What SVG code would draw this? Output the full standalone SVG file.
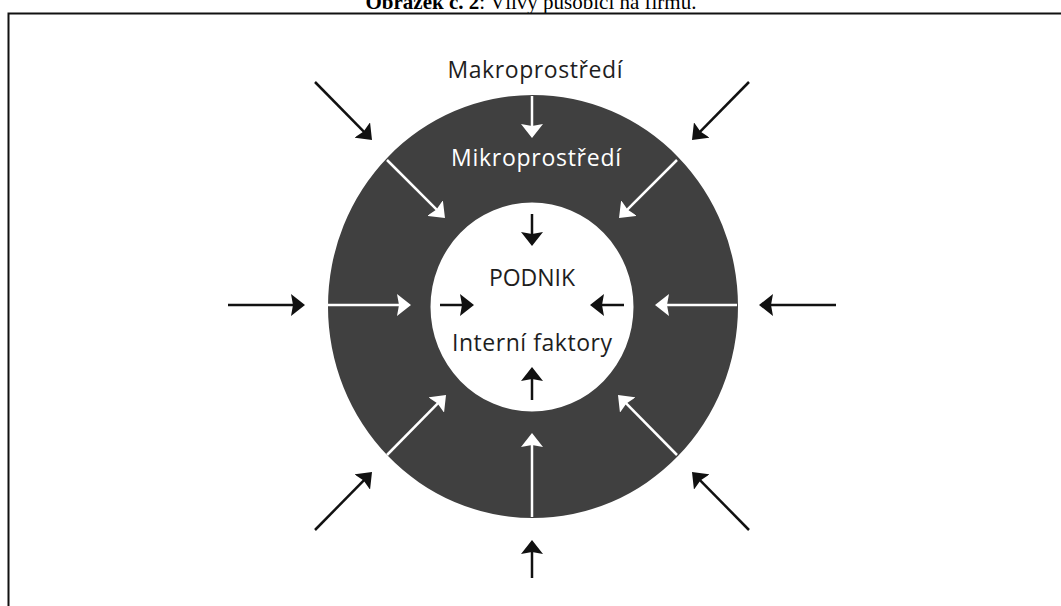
<svg xmlns="http://www.w3.org/2000/svg" width="1061" height="606" viewBox="0 0 1061 606">
  <style>
    .lbl { font-family: "Open Sans", "Noto Sans", "Liberation Sans", sans-serif; font-size: 23px; text-anchor: middle; }
    .dark { fill: #1e1e1e; }
    .light { fill: #ffffff; }
    .ab { stroke: #111111; stroke-width: 2.5; fill: none; marker-end: url(#hb); }
    .aw { stroke: #ffffff; stroke-width: 2.5; fill: none; marker-end: url(#hw); }
    .title { font-family: "Liberation Serif", "Times New Roman", serif; font-size: 21px; fill: #000; text-anchor: middle; }
  </style>
  <defs>
    <marker id="hb" viewBox="0 0 14 22" markerWidth="14" markerHeight="22" refX="3" refY="11" orient="auto" markerUnits="userSpaceOnUse">
      <path d="M0,0 L14,11 L0,22 L2,11 Z" fill="#111111"/>
    </marker>
    <marker id="hw" viewBox="0 0 14 22" markerWidth="14" markerHeight="22" refX="3" refY="11" orient="auto" markerUnits="userSpaceOnUse">
      <path d="M0,0 L14,11 L0,22 L2,11 Z" fill="#ffffff"/>
    </marker>
  </defs>
  <rect x="0" y="0" width="1061" height="606" fill="#ffffff"/>
  <text class="title" x="531" y="9"><tspan font-weight="bold">Obrázek č. 2</tspan>: Vlivy působící na firmu.</text>
  <path d="M8.5,606 V13.5 H1061" fill="none" stroke="#111111" stroke-width="2"/>

  <g id="makroprostredi">
    <text class="lbl dark" x="535" y="78" textLength="175">Makroprostředí</text>
  </g>
  <g id="mikroprostredi">
    <path d="M328,306.5 a205,211.5 0 1,0 410,0 a205,211.5 0 1,0 -410,0 Z M430.5,307 a101.5,104.5 0 1,0 203,0 a101.5,104.5 0 1,0 -203,0 Z" fill="#404040" fill-rule="evenodd"/>
    <text class="lbl light" x="536" y="166" textLength="170">Mikroprostředí</text>
  </g>
  <g id="podnik">
    <text class="lbl dark" x="532" y="286">PODNIK</text>
    <text class="lbl dark" x="532" y="351" textLength="160">Interní faktory</text>
  </g>

  <g id="connectors">
    <line class="ab" x1="315" y1="82" x2="364.3" y2="132.2"/>
    <line class="ab" x1="749" y1="82" x2="699.7" y2="132.2"/>
    <line class="ab" x1="315" y1="530" x2="364.3" y2="479.8"/>
    <line class="ab" x1="749" y1="530" x2="699.7" y2="479.8"/>
    <line class="ab" x1="228" y1="305" x2="294" y2="305"/>
    <line class="ab" x1="836" y1="305" x2="770" y2="305"/>
    <line class="ab" x1="532" y1="578" x2="532" y2="551"/>

    <line class="aw" x1="532" y1="96" x2="532" y2="127"/>
    <line class="aw" x1="532" y1="517" x2="532" y2="444"/>
    <line class="aw" x1="328" y1="305" x2="400" y2="305"/>
    <line class="aw" x1="737" y1="305" x2="666" y2="305"/>
    <line class="aw" x1="387" y1="160" x2="437.2" y2="210.2"/>
    <line class="aw" x1="677" y1="160" x2="626.8" y2="210.2"/>
    <line class="aw" x1="387" y1="455" x2="438.3" y2="402.8"/>
    <line class="aw" x1="677" y1="455" x2="625.7" y2="402.8"/>

    <line class="ab" x1="532" y1="214" x2="532" y2="235"/>
    <line class="ab" x1="532" y1="400" x2="532" y2="378"/>
    <line class="ab" x1="440" y1="305" x2="463" y2="305"/>
    <line class="ab" x1="624" y1="305" x2="601" y2="305"/>
  </g>
</svg>
